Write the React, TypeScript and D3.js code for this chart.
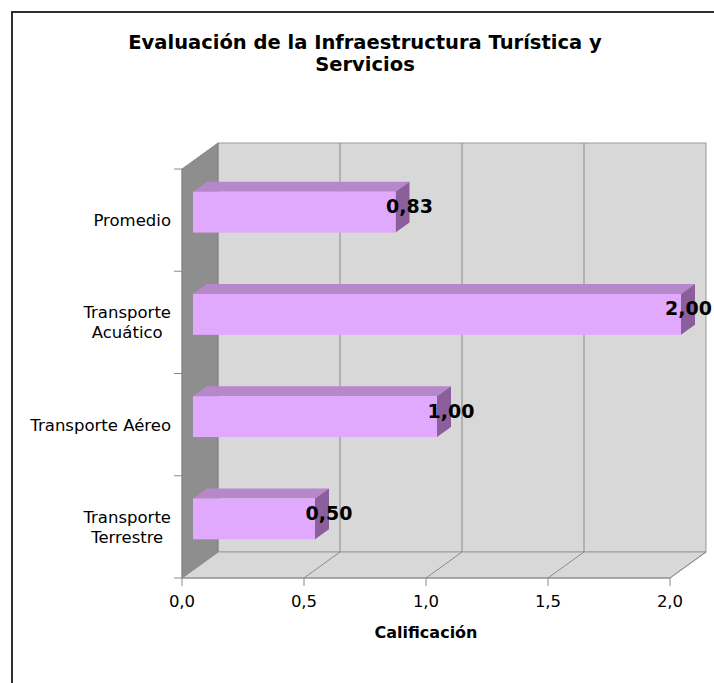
import React, { useMemo } from "react";
import * as d3 from "d3";

const titleLines = ["Evaluación de la Infraestructura Turística y", "Servicios"];
const categories = ["Promedio", "Transporte Acuático", "Transporte Aéreo", "Transporte Terrestre"];
const categoryLines = [["Promedio"], ["Transporte", "Acuático"], ["Transporte Aéreo"], ["Transporte", "Terrestre"]];
const values = [0.83, 2.0, 1.0, 0.5];
const xTicks = [0, 0.5, 1.0, 1.5, 2.0];
const xAxisTitle = "Calificación";

const W = 714;
const H = 683;
const FONT = "'DejaVu Sans', Verdana, sans-serif";

// 3D geometry
const DX = 36;
const DY = 26;
const BAR_OFF_X = 11;
const BAR_OFF_Y = 8;
const BAR_D_X = 14;
const BAR_D_Y = 10;

const COL_BACK = "#d8d8d8";
const COL_LEFT = "#8e8e8e";
const COL_FLOOR = "#d8d8d8";
const COL_GRID = "#8a8a8a";
const COL_FRONT = "#e1a9fe";
const COL_TOP = "#b788c9";
const COL_SIDE = "#8a5f9c";

const CAT_SIZE = 16.5;
const VAL_SIZE = 19;

function measure(text: string, font: string): number {
  const c = document.createElement("canvas");
  const ctx = c.getContext("2d");
  if (!ctx) return text.length * 9;
  ctx.font = font;
  return ctx.measureText(text).width;
}

const comma = (v: number, f: string) => d3.format(f)(v).replace(".", ",");

export default function App() {
  const x = d3.scaleLinear().domain([0, 2]).range([182, 670]);
  const y = d3.scaleBand<string>().domain(categories).range([169, 578]).paddingInner(0).paddingOuter(0);
  const x0 = x(0);
  const xMax = x(2);
  const yTop = 169;
  const yBot = 578;
  const bw = y.bandwidth();
  const barH = bw * 0.4;

  const labelRight = 171;
  const widths = useMemo(
    () => categoryLines.map((ls) => Math.max(...ls.map((l) => measure(l, `${CAT_SIZE}px ${FONT}`)))),
    []
  );
  const valWidths = useMemo(
    () => values.map((v) => measure(comma(v, ".2f"), `bold ${VAL_SIZE}px ${FONT}`)),
    []
  );

  const pts = (arr: number[][]) => arr.map((p) => p.join(",")).join(" ");

  return (
    <svg
      width={W}
      height={H}
      style={{ position: "absolute", left: 0, top: 0, background: "#fff" }}
      fontFamily={FONT}
    >
      <rect x={0} y={0} width={W} height={H} fill="#fff" />
      {/* frame */}
      <rect x={12} y={12} width={W + 20} height={H + 20} fill="none" stroke="#1a1a1a" strokeWidth={1.8} />

      {/* title */}
      {titleLines.map((t, i) => (
        <text key={i} x={365} y={49 + i * 22} textAnchor="middle" fontSize={19.5} fontWeight="bold" fill="#000">
          {t}
        </text>
      ))}

      {/* back wall */}
      <rect x={x0 + DX} y={yTop - DY} width={xMax - x0} height={yBot - yTop} fill={COL_BACK} stroke="#9a9a9a" strokeWidth={1} />
      {/* left wall */}
      <polygon
        points={pts([[x0, yTop], [x0 + DX, yTop - DY], [x0 + DX, yBot - DY], [x0, yBot]])}
        fill={COL_LEFT}
        stroke="#7a7a7a"
        strokeWidth={0.8}
      />
      {/* floor */}
      <polygon
        points={pts([[x0, yBot], [xMax, yBot], [xMax + DX, yBot - DY], [x0 + DX, yBot - DY]])}
        fill={COL_FLOOR}
        stroke="#9a9a9a"
        strokeWidth={1}
      />
      {/* grid lines */}
      {xTicks.map((t, i) => (
        <g key={i}>
          {t > 0 && t < 2 && (
            <line x1={x(t) + DX} x2={x(t) + DX} y1={yTop - DY} y2={yBot - DY} stroke={COL_GRID} strokeWidth={1} />
          )}
          <line x1={x(t)} y1={yBot} x2={x(t) + DX} y2={yBot - DY} stroke={COL_GRID} strokeWidth={1} />
        </g>
      ))}

      {/* axes */}
      <line x1={x0} x2={x0} y1={yTop} y2={yBot} stroke="#8a8a8a" strokeWidth={1} />
      <line x1={x0} x2={xMax} y1={yBot} y2={yBot} stroke="#8a8a8a" strokeWidth={1} />
      {categories.map((c, i) => (
        <line key={i} x1={x0 - 8} x2={x0} y1={(y(c) as number)} y2={(y(c) as number)} stroke="#8a8a8a" />
      ))}
      <line x1={x0 - 8} x2={x0} y1={yBot} y2={yBot} stroke="#8a8a8a" />
      {xTicks.map((t, i) => (
        <g key={i}>
          <line x1={x(t)} x2={x(t)} y1={yBot} y2={yBot + 8} stroke="#8a8a8a" />
          <text x={x(t)} y={607} textAnchor="middle" fontSize={16.5} fill="#000">
            {comma(t, ".1f")}
          </text>
        </g>
      ))}
      <text x={x(1)} y={638} textAnchor="middle" fontSize={16} fontWeight="bold" fill="#000">
        {xAxisTitle}
      </text>

      {/* category labels */}
      {categories.map((c, i) => {
        const cy = (y(c) as number) + bw / 2;
        const lines = categoryLines[i];
        const cx = labelRight - widths[i] / 2;
        const lh = 20;
        const start = cy + 6 - ((lines.length - 1) * lh) / 2;
        return (
          <text key={i} textAnchor="middle" fontSize={CAT_SIZE} fill="#000">
            {lines.map((l, j) => (
              <tspan key={j} x={cx} y={start + j * lh}>
                {l}
              </tspan>
            ))}
          </text>
        );
      })}

      {/* bars */}
      {categories.map((c, i) => {
        const v = values[i];
        const cy = (y(c) as number) + bw / 2 - BAR_OFF_Y;
        const fx0 = x0 + BAR_OFF_X;
        const fx1 = x(v) + BAR_OFF_X;
        const fy0 = cy - barH / 2;
        const fy1 = cy + barH / 2;
        return (
          <g key={i}>
            <polygon
              points={pts([[fx0, fy0], [fx0 + BAR_D_X, fy0 - BAR_D_Y], [fx1 + BAR_D_X, fy0 - BAR_D_Y], [fx1, fy0]])}
              fill={COL_TOP}
            />
            <polygon
              points={pts([[fx1, fy0], [fx1 + BAR_D_X, fy0 - BAR_D_Y], [fx1 + BAR_D_X, fy1 - BAR_D_Y], [fx1, fy1]])}
              fill={COL_SIDE}
            />
            <rect x={fx0} y={fy0} width={fx1 - fx0} height={fy1 - fy0} fill={COL_FRONT} />
          </g>
        );
      })}

      {/* value labels */}
      {categories.map((c, i) => {
        const v = values[i];
        const cy = (y(c) as number) + bw / 2 - BAR_OFF_Y;
        const cx = Math.min(x(v) + BAR_OFF_X + BAR_D_X, W - 2 - valWidths[i] / 2);
        return (
          <text key={i} x={cx} y={cy + 1} textAnchor="middle" fontSize={VAL_SIZE} fontWeight="bold" fill="#000">
            {comma(v, ".2f")}
          </text>
        );
      })}
    </svg>
  );
}
